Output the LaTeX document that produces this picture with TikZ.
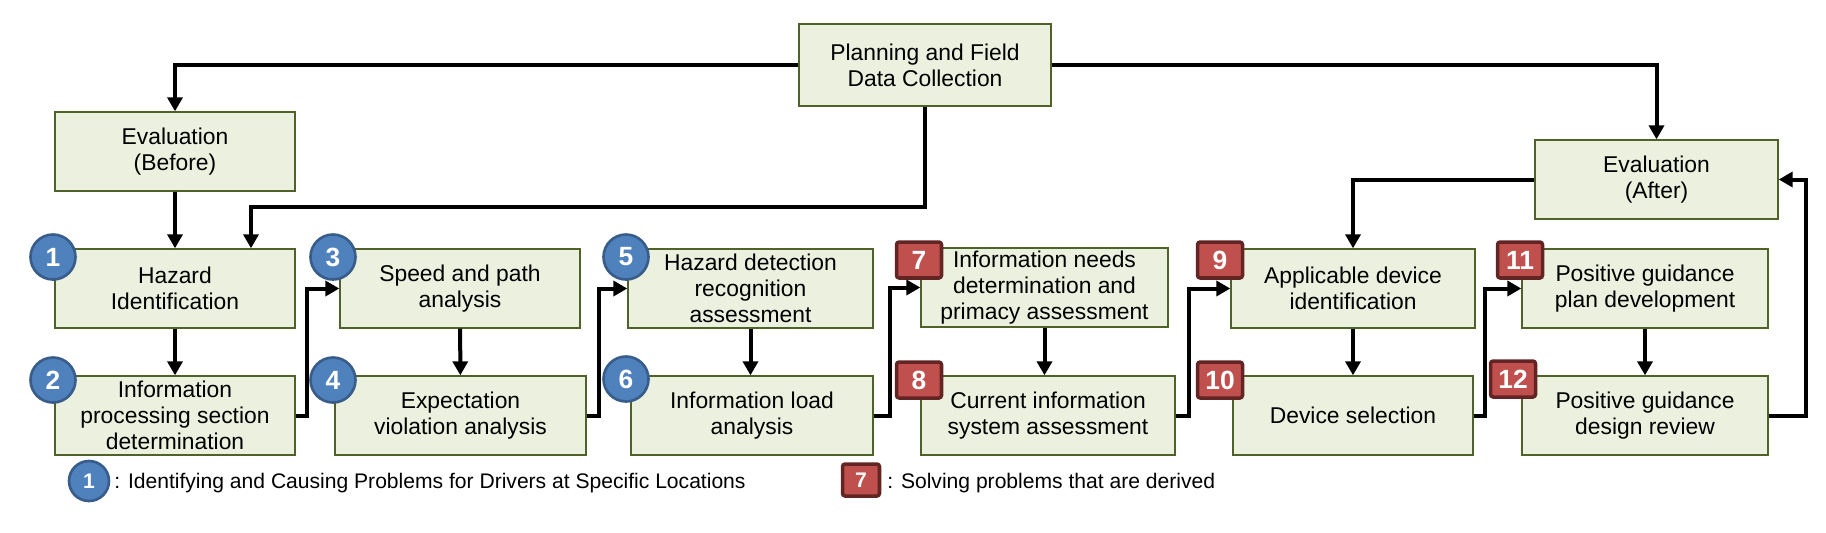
\documentclass[tikz,border=0pt]{standalone}
\usepackage{fontspec}
\setmainfont{Liberation Sans}
\usetikzlibrary{positioning,calc,arrows.meta}
\definecolor{boxfill}{HTML}{EBF1DE}
\definecolor{boxline}{HTML}{4F6228}
\definecolor{badgeblue}{HTML}{4F81BD}
\definecolor{badgeblueline}{HTML}{385D8A}
\definecolor{badgered}{HTML}{C0504D}
\definecolor{badgeredline}{HTML}{632523}
\tikzset{
	stepbox/.style={rectangle, draw=boxline, fill=boxfill, line width=0.8pt, minimum height=1.58cm, align=center, inner sep=1pt, font=\fontsize{13}{14.8}\selectfont},
	numcircle/.style={circle, draw=badgeblueline, fill=badgeblue, line width=1.5pt, minimum size=0.9cm, inner sep=0pt, text=white, font=\fontsize{15}{15}\selectfont\bfseries},
	numsquare/.style={rectangle, rounded corners=1.5pt, draw=badgeredline, fill=badgered, line width=2pt, minimum width=0.9cm, minimum height=0.72cm, inner sep=0pt, text=white, font=\fontsize{15}{15}\selectfont\bfseries},
	flow/.style={-{Triangle[length=0.28cm,width=0.3cm]}, line width=0.08cm}
}

\begin{document}
\begin{tikzpicture}[x=0.02cm,y=-0.02cm]
			\useasboundingbox (0,0) rectangle (1826,532);
			% plain node definitions
			\node[stepbox, minimum width=5.04cm, minimum height=1.64cm] (plan) at (925,65) {Planning and Field\\Data Collection};
			\node[stepbox, minimum width=4.8cm] (evb) at (175,151.5) {Evaluation\\(Before)};
			\node[stepbox, minimum width=4.86cm] (eva) at (1656.5,179.5) {Evaluation\\(After)};
			
			\node[stepbox, minimum width=4.8cm] (b1) at (175,288.5) {Hazard\\Identification};
			\node[stepbox, minimum width=4.8cm] (b3) at (460,288.5) {Speed and path\\analysis};
			\node[stepbox, minimum width=4.9cm] (b5) at (750.5,288.5) {Hazard detection\\recognition\\assessment};
			\node[stepbox, minimum width=4.94cm] (b7) at (1044.5,287.5) {Information needs\\determination and\\primacy assessment};
			\node[stepbox, minimum width=4.88cm] (b9) at (1353,288.5) {Applicable device\\identification};
			\node[stepbox, minimum width=4.92cm] (b11) at (1645,288.5) {Positive guidance\\plan development};
			
			\node[stepbox, minimum width=4.8cm] (b2) at (175,415.5) {Information\\processing section\\determination};
			\node[stepbox, minimum width=5.02cm] (b4) at (460.5,415.5) {Expectation\\violation analysis};
			\node[stepbox, minimum width=4.84cm] (b6) at (752,415.5) {Information load\\analysis};
			\node[stepbox, minimum width=5.08cm] (b8) at (1048,415.5) {Current information\\system assessment};
			\node[stepbox, minimum width=4.8cm] (b10) at (1353,415.5) {Device selection};
			\node[stepbox, minimum width=4.92cm] (b12) at (1645,415.5) {Positive guidance\\design review};
			
			% number badges
			\node[numcircle] (n1) at (53,257) {1};
			\node[numcircle] (n2) at (53,380) {2};
			\node[numcircle] (n3) at (333,257) {3};
			\node[numcircle] (n4) at (333,380) {4};
			\node[numcircle] (n5) at (626,257) {5};
			\node[numcircle] (n6) at (626,379) {6};
			\node[numsquare] (n7) at (919,260) {7};
			\node[numsquare] (n8) at (919,380) {8};
			\node[numsquare] (n9) at (1220,260) {9};
			\node[numsquare] (n10) at (1220,380) {10};
			\node[numsquare] (n11) at (1520,260) {11};
			\node[numsquare] (n12) at (1513,379) {12};
			
			% arrows
			\coordinate (split) at (251,207);
			\draw[flow] (plan.west) -| (evb.north);
			\draw[flow] (plan.east) -| (eva.north);
			\draw[flow] (plan.south) |- (split) -- (split |- b1.north);
			\draw[flow] (evb) -- (b1);
			\draw[flow] (eva.west) -| (b9.north);
			\draw[flow] (b1) -- (b2);
			\draw[flow] (b3) -- (b4);
			\draw[flow] (b5.south) -- (b5.south |- b6.north);
			\draw[flow] (b7.south) -- (b7.south |- b8.north);
			\draw[flow] (b9) -- (b10);
			\draw[flow] (b11) -- (b12);
			\draw[flow] (b2.east) -- ++(11,0) |- (b3.west);
			\draw[flow] (b4.east) -- ++(12,0) |- (b5.west);
			\draw[flow] (b6.east) -- ++(16,0) |- (b7.west);
			\draw[flow] (b8.east) -- ++(13,0) |- (b9.west);
			\draw[flow] (b10.east) -- ++(11,0) |- (b11.west);
			\draw[flow] (b12.east) -- ++(37,0) |- (eva.east);
			
			% legend
			\node[numcircle, minimum size=0.8cm, font=\fontsize{12}{12}\selectfont\bfseries] (key1) at (89,481) {1};
			\node[anchor=west, inner sep=0pt, font=\fontsize{12}{14}\selectfont] (key1text) at (114,483) {: Identifying and Causing Problems for Drivers at Specific Locations};
			\node[numsquare, minimum width=0.74cm, minimum height=0.64cm, font=\fontsize{12}{12}\selectfont\bfseries] (key7) at (861,480) {7};
			\node[anchor=west, inner sep=0pt, font=\fontsize{12}{14}\selectfont] (key7text) at (887,483) {: Solving problems that are derived};
		\end{tikzpicture}
\end{document}
